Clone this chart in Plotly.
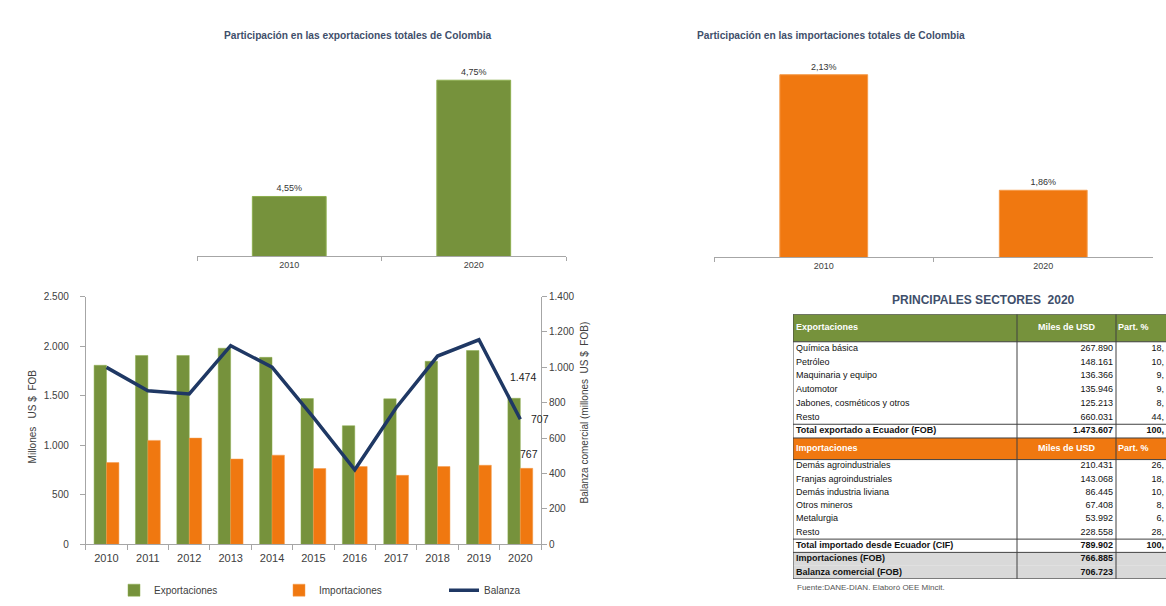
import plotly.graph_objects as go

W, H = 1166, 606

# ---------------- data ----------------
share_years = ["2010", "2020"]
export_share = [4.55, 4.75]
import_share = [2.13, 1.86]

years = ["2010", "2011", "2012", "2013", "2014", "2015", "2016", "2017", "2018", "2019", "2020"]
exportaciones = [1807, 1906, 1906, 1979, 1887, 1471, 1197, 1468, 1847, 1956, 1474]
importaciones = [825, 1049, 1072, 861, 900, 765, 785, 696, 785, 798, 767]
balanza = [1000, 868, 850, 1123, 1001, 717, 421, 772, 1064, 1156, 707]

exp_header = ["Exportaciones", "Miles de USD", "Part. %"]
exp_sectors = ["Química básica", "Petróleo", "Maquinaria y equipo", "Automotor",
               "Jabones, cosméticos y otros", "Resto"]
exp_miles = [267890, 148161, 136366, 135946, 125213, 660031]
exp_part = ["18,", "10,", "9,", "9,", "8,", "44,"]
exp_total_label = "Total exportado a Ecuador (FOB)"
exp_total = 1473607
exp_total_part = "100,"

imp_header = ["Importaciones", "Miles de USD", "Part. %"]
imp_sectors = ["Demás agroindustriales", "Franjas agroindustriales", "Demás industria liviana",
               "Otros mineros", "Metalurgia", "Resto"]
imp_miles = [210431, 143068, 86445, 67408, 53992, 228558]
imp_part = ["26,", "18,", "10,", "8,", "6,", "28,"]
imp_total_label = "Total importado desde Ecuador (CIF)"
imp_total = 789902
imp_total_part = "100,"

resumen_labels = ["Importaciones (FOB)", "Balanza comercial (FOB)"]
resumen_miles = [766885, 706723]


def miles(v):
    return f"{v:,}".replace(",", ".")


def px(x):
    return x / W


def py(y):
    return 1 - y / H


GREEN = "#76923C"
ORANGE = "#F07810"
NAVY = "#1F3864"
AXIS = "#A6A6A6"
TXT = "#404040"
TITLE = "#3F4F6B"
DARK = "#404040"
GRAY = "#D9D9D9"
FONT = "Liberation Sans, Arial, sans-serif"

fig = go.Figure()

# ---- top charts ----
fig.add_trace(go.Bar(x=share_years, y=export_share, width=0.4,
                     marker=dict(color=GREEN, line=dict(color="#8DAE4E", width=1)),
                     texttemplate="%{y:.2f}%", textposition="outside",
                     textfont=dict(size=9, color="#333333"),
                     showlegend=False, hoverinfo="skip", xaxis="x", yaxis="y"))
fig.add_trace(go.Bar(x=share_years, y=import_share, width=0.4,
                     marker=dict(color=ORANGE, line=dict(color="#F59A4A", width=1)),
                     texttemplate="%{y:.2f}%", textposition="outside",
                     textfont=dict(size=9, color="#333333"),
                     showlegend=False, hoverinfo="skip", xaxis="x2", yaxis="y2"))

# ---- combo chart ----
fig.add_trace(go.Bar(name="Exportaciones", x=years, y=exportaciones,
                     marker=dict(color=GREEN, line=dict(color="#8DAE4E", width=0.5)),
                     xaxis="x3", yaxis="y3"))
fig.add_trace(go.Bar(name="Importaciones", x=years, y=importaciones,
                     marker=dict(color=ORANGE, line=dict(color="#F59A4A", width=0.5)),
                     xaxis="x3", yaxis="y3"))
fig.add_trace(go.Scatter(name="Balanza", x=years, y=balanza, mode="lines",
                         line=dict(color=NAVY, width=3.5), xaxis="x3", yaxis="y4"))

# ---- table (drawn on its own hidden axes, units = pixels inside the table) ----
TBL_L, TBL_TOP = 793, 315
COLW = [224, 99, 50]
TBL_W = W - TBL_L
col_x = [0, COLW[0], COLW[0] + COLW[1], TBL_W]

rows = [dict(cells=exp_header, h=28, kind="hdr", fill=GREEN)]
for s, v, p in zip(exp_sectors, exp_miles, exp_part):
    rows.append(dict(cells=[s, miles(v), p], h=14, kind="data"))
rows.append(dict(cells=[exp_total_label, miles(exp_total), exp_total_part], h=14, kind="total"))
rows.append(dict(cells=imp_header, h=22, kind="hdr", fill=ORANGE))
for s, v, p in zip(imp_sectors, imp_miles, imp_part):
    rows.append(dict(cells=[s, miles(v), p], h=13.5, kind="data"))
rows.append(dict(cells=[imp_total_label, miles(imp_total), imp_total_part], h=13.5, kind="total"))
for lab, v in zip(resumen_labels, resumen_miles):
    rows.append(dict(cells=[lab, miles(v), ""], h=13.5, kind="gray"))

y = 0
for r in rows:
    r["y0"] = y
    r["yc"] = y + r["h"] / 2
    y += r["h"]
    r["y1"] = y
TBL_H = y

groups = {}


def put(key, xv, yv, text, color):
    g = groups.setdefault(key, dict(x=[], y=[], text=[], color=[]))
    g["x"].append(xv)
    g["y"].append(yv)
    g["text"].append(text)
    g["color"].append(color)


shapes = []
for r in rows:
    bold = r["kind"] != "data"
    col = "white" if r["kind"] == "hdr" else "#111111"
    t = [f"<b>{c}</b>" if (bold and c) else c for c in r["cells"]]
    put("middle right", col_x[0] + 3, r["yc"], t[0], col)
    if r["kind"] == "hdr":
        put("middle center", (col_x[1] + col_x[2]) / 2, r["yc"], t[1], col)
        put("middle right", col_x[2] + 2, r["yc"], t[2], col)
    else:
        put("middle left", col_x[2] - 3, r["yc"], t[1], col)
        if t[2]:
            put("middle left", col_x[3] - 2, r["yc"], t[2], col)
    if r["kind"] in ("hdr", "gray"):
        shapes.append(dict(type="rect", xref="x5", yref="y5", x0=0, x1=TBL_W,
                           y0=r["y0"], y1=r["y1"], fillcolor=r.get("fill", GRAY),
                           line=dict(width=0), layer="below"))

for key, g in groups.items():
    fig.add_trace(go.Scatter(x=g["x"], y=g["y"], text=g["text"], mode="text",
                             textposition=key, cliponaxis=False,
                             textfont=dict(size=9, color=g["color"], family=FONT),
                             showlegend=False, hoverinfo="skip", xaxis="x5", yaxis="y5"))

# table rules
LINE = dict(color=DARK, width=1)
for xv in col_x[:3]:
    shapes.append(dict(type="line", xref="x5", yref="y5", x0=xv, x1=xv, y0=0, y1=TBL_H,
                       line=LINE))
hlines = {0.0, TBL_H}
for r in rows:
    if r["kind"] == "hdr":
        hlines.add(r["y1"])
    if r["kind"] == "total":
        hlines.add(r["y0"])
        hlines.add(r["y1"])
for hv in sorted(hlines):
    shapes.append(dict(type="line", xref="x5", yref="y5", x0=0, x1=TBL_W, y0=hv, y1=hv,
                       line=LINE))

last = len(years) - 1  # category index of the last year (for annotations)

annotations = [
    dict(text="<b>Participación en las exportaciones totales de Colombia</b>",
         x=px(358), y=py(31), xref="paper", yref="paper", showarrow=False,
         font=dict(size=10.2, color=TITLE), xanchor="center", yanchor="middle"),
    dict(text="<b>Participación en las importaciones totales de Colombia</b>",
         x=px(695), y=py(31), xref="paper", yref="paper", showarrow=False,
         font=dict(size=10.2, color=TITLE), xanchor="left", yanchor="middle"),
    dict(text="Millones   US $  FOB", x=px(32), y=py(419), xref="paper", yref="paper",
         showarrow=False, textangle=-90, xanchor="center", yanchor="middle",
         font=dict(size=10, color=TXT)),
    dict(text="Balanza comercial (millones  US $  FOB)", x=px(584), y=py(415),
         xref="paper", yref="paper", showarrow=False, textangle=-90,
         xanchor="center", yanchor="middle", font=dict(size=10, color=TXT)),
    dict(text=miles(exportaciones[-1]), x=last, y=exportaciones[-1], xref="x3", yref="y3",
         showarrow=False, yshift=21, xshift=3, font=dict(size=10.5, color="#222222")),
    dict(text=miles(balanza[-1]), x=last, y=balanza[-1], xref="x3", yref="y4",
         showarrow=False, xanchor="left", yanchor="middle", xshift=9,
         font=dict(size=10.5, color="#222222")),
    dict(text=miles(importaciones[-1]), x=last, y=importaciones[-1], xref="x3", yref="y3",
         showarrow=False, yshift=14, xshift=9, font=dict(size=10.5, color="#222222")),
    dict(text="<b>PRINCIPALES SECTORES  2020</b>", x=px(983), y=py(300), xref="paper",
         yref="paper", showarrow=False, xanchor="center", yanchor="middle",
         font=dict(size=12, color=TITLE)),
    dict(text="Fuente:DANE-DIAN. Elaboró OEE Mincit.", x=px(TBL_L + 2),
         y=py(TBL_TOP + TBL_H + 9), xref="paper", yref="paper", showarrow=False,
         xanchor="left", yanchor="middle", font=dict(size=8, color="#555555")),
]

fig.update_layout(
    width=W, height=H, margin=dict(l=0, r=0, t=0, b=0),
    paper_bgcolor="white", plot_bgcolor="white",
    font=dict(family=FONT, color=TXT, size=10),
    separators=",.",
    barmode="group", bargap=0.4, bargroupgap=0,
    showlegend=True,
    legend=dict(orientation="h", x=px(114), y=py(596), xanchor="left", yanchor="middle",
                entrywidth=120, font=dict(size=10, color=TXT), bgcolor="rgba(0,0,0,0)"),
    xaxis=dict(type="category", domain=[px(197), px(566)], anchor="y", showline=True,
               linecolor=AXIS, ticks="outside", tickson="boundaries", ticklen=4,
               tickcolor=AXIS, tickfont=dict(size=9, color=TXT), showgrid=False),
    yaxis=dict(domain=[py(256), py(47)], range=[4.447, 4.8], visible=False, anchor="x"),
    xaxis2=dict(type="category", domain=[px(714), px(1153)], anchor="y2", showline=True,
                linecolor=AXIS, ticks="outside", tickson="boundaries", ticklen=4,
                tickcolor=AXIS, tickfont=dict(size=9, color=TXT), showgrid=False),
    yaxis2=dict(domain=[py(256.7), py(40.5)], range=[1.704, 2.2], visible=False, anchor="x2"),
    xaxis3=dict(type="category", domain=[px(85.8), px(541)], anchor="y3", showline=True,
                range=[-0.5, len(years) - 0.5], autorange=False,
                linecolor=AXIS, ticks="outside", tickson="boundaries", ticklen=5,
                tickcolor=AXIS, tickfont=dict(size=11, color=TXT), showgrid=False,
                ticklabelstandoff=3),
    yaxis3=dict(domain=[py(549.3), py(297)], anchor="x3", range=[0, 2500], dtick=500,
                tickformat=",d", showline=True, linecolor=AXIS, ticks="outside",
                ticklen=5, tickcolor=AXIS, showgrid=False, zeroline=False,
                ticklabelstandoff=9, tickfont=dict(size=10, color=TXT)),
    yaxis4=dict(overlaying="y3", side="right", anchor="x3", range=[0, 1400], dtick=200,
                tickformat=",d", showline=True, linecolor=AXIS, ticks="outside",
                ticklen=5, tickcolor=AXIS, showgrid=False, zeroline=False,
                tickfont=dict(size=10, color=TXT)),
    xaxis5=dict(domain=[px(TBL_L), 1], anchor="y5", range=[0, TBL_W], visible=False,
                showgrid=False, zeroline=False, fixedrange=True),
    yaxis5=dict(domain=[py(TBL_TOP + TBL_H), py(TBL_TOP)], anchor="x5",
                range=[TBL_H, 0], visible=False, showgrid=False, zeroline=False,
                fixedrange=True),
    shapes=shapes,
    annotations=annotations,
)

fig.write_html("out.html", config={"displayModeBar": False},
               post_script="document.body.style.margin='0';")
